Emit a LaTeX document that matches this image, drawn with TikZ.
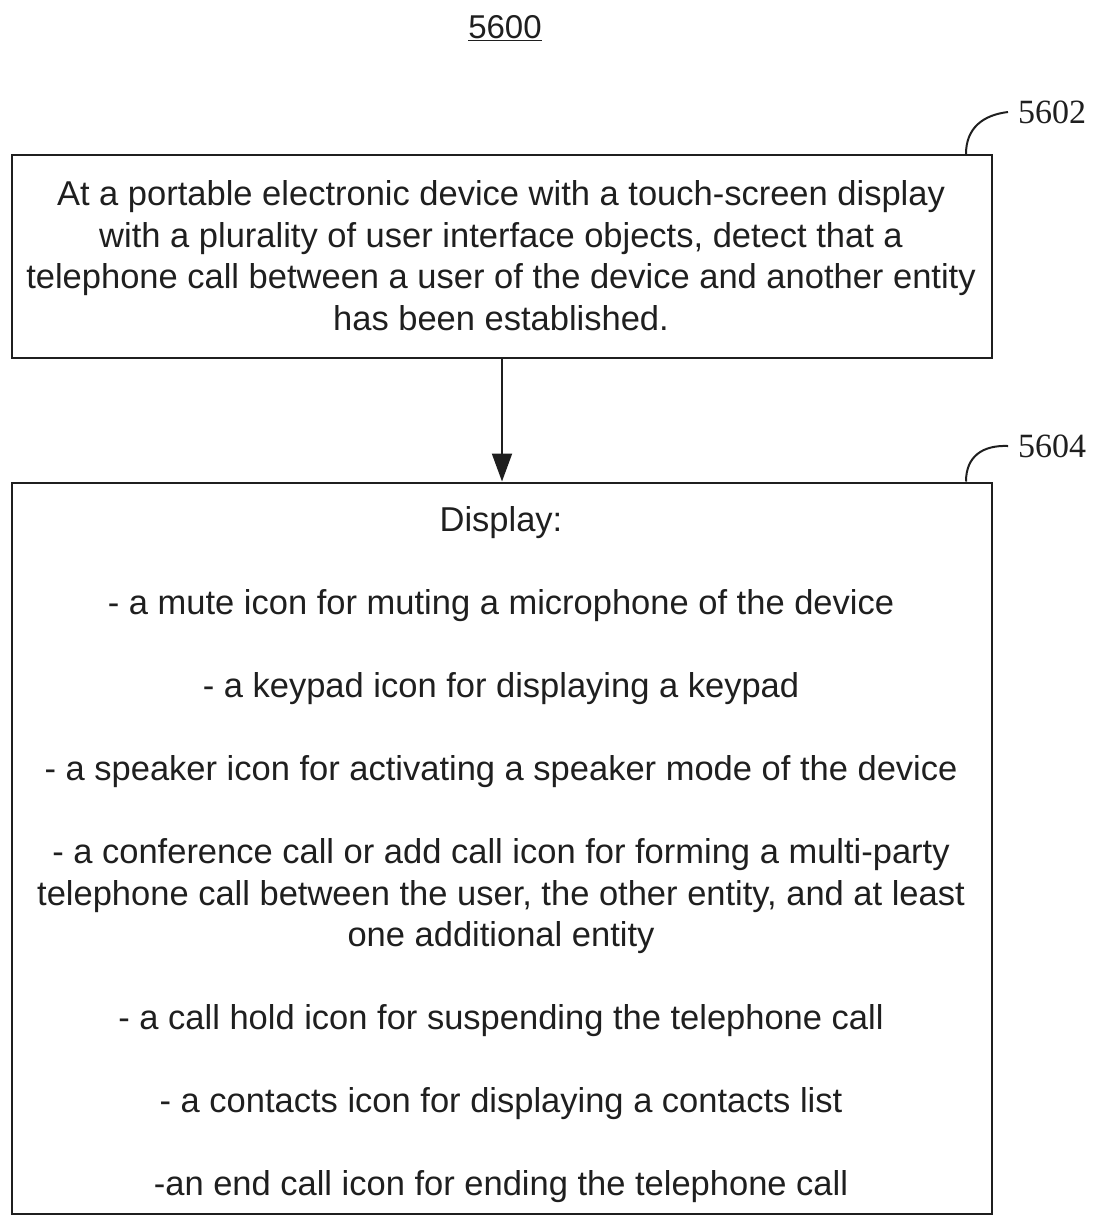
\documentclass[tikz,border=0pt]{standalone}
\usepackage{fontspec}
\setmainfont{Liberation Sans}
\newfontfamily\refserif{Liberation Serif}
\usetikzlibrary{arrows.meta}
\definecolor{ink}{gray}{0.12}
\begin{document}
\begin{tikzpicture}[x=1pt,y=-1pt,
  box/.style={draw=ink,line width=2pt,rectangle,inner sep=0pt},
  boxtext/.style={inner sep=0pt,align=center,text=ink,
    font=\fontsize{34.5}{41.5}\selectfont},
  reflabel/.style={font=\refserif\fontsize{34}{34}\selectfont,text=ink,inner sep=0pt,anchor=west},
  leader/.style={draw=ink,line width=2pt},
  flow/.style={draw=ink,line width=2pt,-{Triangle[length=28pt,width=20pt]}}]
\useasboundingbox (0,0) rectangle (1093,1216);
\node[font=\fontsize{33}{33}\selectfont,text=ink,inner sep=0pt] (title) at (505,28) {\underline{5600}};
\node[box,minimum width=980pt,minimum height=203pt] (b1) at (502,256.5) {};
\node[boxtext] (t1) at (501,255.5)
 {At a portable electronic device with a touch-screen display\\
  with a plurality of user interface objects, detect that a\\
  telephone call between a user of the device and another entity\\
  has been established.};
\node[box,minimum width=980pt,minimum height=731pt] (b2) at (502,848) {};
\node[boxtext] (t2) at (501,855)
 {Display:\\[41.5pt]
  - a mute icon for muting a microphone of the device\\[41.5pt]
  - a keypad icon for displaying a keypad\\[41.5pt]
  - a speaker icon for activating a speaker mode of the device\\[41.5pt]
  - a conference call or add call icon for forming a multi-party\\
  telephone call between the user, the other entity, and at least\\
  one additional entity\\[41.5pt]
  - a call hold icon for suspending the telephone call\\[41.5pt]
  - a contacts icon for displaying a contacts list\\[41.5pt]
  -an end call icon for ending the telephone call};
\node[reflabel] (l1) at (1018,112) {5602};
\node[reflabel] (l2) at (1018,446) {5604};
\draw[leader] ([xshift=-27pt]b1.north east) .. controls (966,128) and (983,115) .. ([xshift=-10pt]l1.west);
\draw[leader] ([xshift=-27pt]b2.north east) .. controls (966,456) and (983,445) .. ([xshift=-10pt]l2.west);
\draw[flow] (b1.south) -- (b2.north);
\end{tikzpicture}
\end{document}
